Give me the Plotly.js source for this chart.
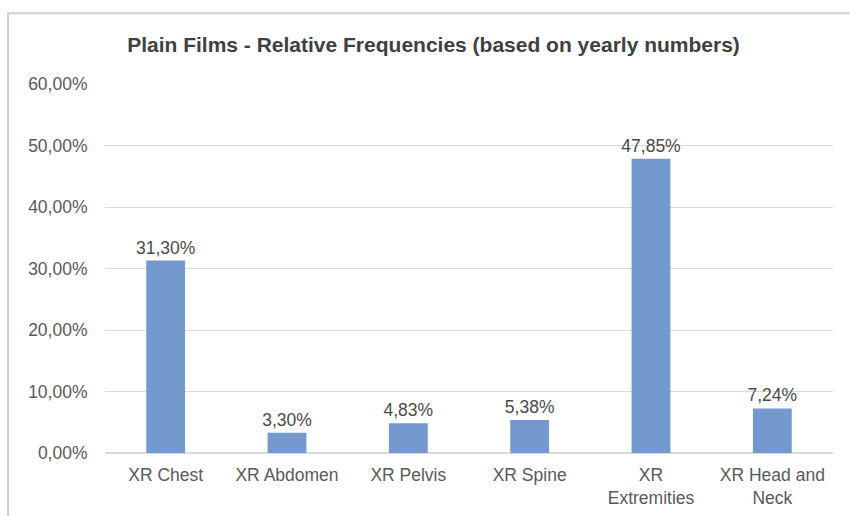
<!DOCTYPE html>
<html>
<head>
<meta charset="utf-8">
<script src="https://cdn.plot.ly/plotly-3.0.1.min.js"></script>
<style>html,body{margin:0;padding:0;background:#fff;}#chart{width:850px;height:516px;}</style>
</head>
<body>
<div id="chart"></div>
<script>
const categories = ["XR Chest", "XR Abdomen", "XR Pelvis", "XR Spine", "XR<br>Extremities", "XR Head and<br>Neck"];
const values = [0.3130, 0.0330, 0.0483, 0.0538, 0.4785, 0.0724];
const yTicks = [0, 0.1, 0.2, 0.3, 0.4, 0.5, 0.6];

const trace = {
  type: 'bar',
  x: categories,
  y: values,
  marker: {color: '#7399cf'},
  width: 0.32,
  texttemplate: '%{y:.2%}',
  textposition: 'outside',
  constraintext: 'none',
  cliponaxis: false,
  textfont: {family: 'Liberation Sans, Arial, sans-serif', size: 17.5, color: '#4a4a4a'},
  hoverinfo: 'skip'
};

const layout = {
  width: 850, height: 516,
  margin: {l: 105, r: 17, t: 84, b: 63},
  paper_bgcolor: '#ffffff', plot_bgcolor: '#ffffff',
  separators: ',.',
  showlegend: false,
  title: {
    text: '<b>Plain Films - Relative Frequencies (based on yearly numbers)</b>',
    font: {family: 'Liberation Sans, Arial, sans-serif', size: 21, color: '#404040'},
    x: 0.51, xanchor: 'center', y: 0.913, yanchor: 'middle'
  },
  xaxis: {
    tickfont: {family: 'Liberation Sans, Arial, sans-serif', size: 17.5, color: '#595959'},
    showline: false, ticks: 'outside', ticklen: 6, tickcolor: 'rgba(0,0,0,0)', showgrid: false, zeroline: false
  },
  yaxis: {
    range: [0, 0.6],
    tickvals: yTicks,
    tickformat: '.2%',
    tickfont: {family: 'Liberation Sans, Arial, sans-serif', size: 17.5, color: '#595959'},
    showgrid: true, gridcolor: '#d9d9d9', gridwidth: 1,
    zeroline: true, zerolinecolor: '#d9d9d9', zerolinewidth: 1.5,
    showline: false, ticks: 'outside', ticklen: 13, tickcolor: 'rgba(0,0,0,0)'
  },
  shapes: [{
    type: 'rect', xref: 'paper', yref: 'paper',
    x0: -0.1332, x1: 1.03, y0: -0.18, y1: 1.192,
    line: {color: '#d0d0d0', width: 2}, fillcolor: 'rgba(0,0,0,0)', layer: 'above'
  }]
};

Plotly.newPlot('chart', [trace], layout, {displayModeBar: false, staticPlot: true});
</script>
</body>
</html>
